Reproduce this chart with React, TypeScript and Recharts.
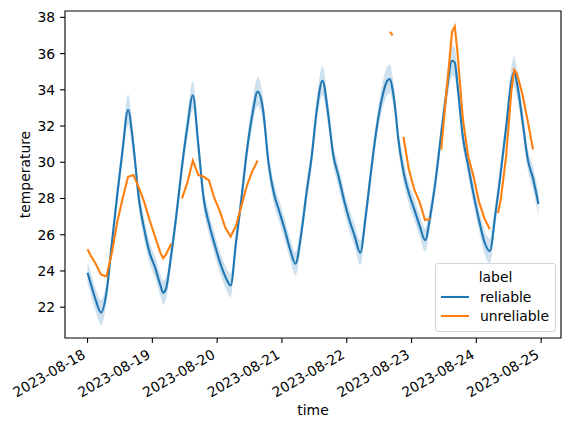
import { ComposedChart, Line, Area, XAxis, YAxis, Legend, ReferenceArea, Label } from 'recharts';

// hours since 2023-08-18 00:00
const hours = [
  0, 1, 3, 5, 7, 9, 11, 13, 15, 17, 19, 21, 23,
  25, 27, 28, 29, 31, 33, 35, 37, 39, 41, 43, 45, 47,
  49, 51, 53, 55, 57, 59, 61, 63, 65, 67, 69, 71,
  73, 75, 77, 79, 81, 83, 85, 87, 89, 91, 93, 95,
  97, 99, 101, 103, 105, 107, 109, 111, 112, 113, 114, 115,
  117, 119, 121, 123, 125, 127, 129, 131, 133, 135, 136, 137, 139, 141, 143,
  145, 147, 149, 151, 152, 153, 155, 157, 158, 159, 161, 163, 165, 167,
];

// mean of the reliable sensors
const reliable = [
  23.9, 23.4, 22.4, 21.7, 22.8, 25.5, 28.2, 30.7, 32.9, 30.9, 28.0, 26.3, 25.0,
  24.2, 23.2, 22.8, 23.0, 24.9, 27.2, 29.8, 32.0, 33.7, 31.0, 28.0, 26.6, 25.5,
  24.5, 23.7, 23.2, 25.6, 28.0, 30.6, 32.6, 33.9, 32.9, 30.0, 28.3, 27.3,
  26.3, 25.2, 24.4, 25.9, 28.2, 30.3, 33.0, 34.5, 32.8, 30.4, 29.2, 27.9,
  26.8, 25.9, 25.0, 27.0, 29.5, 31.8, 33.5, 34.5, 34.6, 34.0, 32.9, 31.4,
  29.5, 28.3, 27.4, 26.5, 25.7, 27.1, 29.1, 31.6, 33.9, 35.6, 35.5, 34.3, 31.4, 29.8, 28.2,
  26.8, 25.6, 25.1, 27.1, 28.2, 29.4, 31.9, 34.5, 35.0, 34.4, 32.4, 30.2, 29.1, 27.7,
];

// half width of the confidence band around the reliable mean
const reliableCi = [
  0.62, 0.62, 0.62, 0.68, 0.6, 0.6, 0.6, 0.62, 0.85, 0.65, 0.6, 0.6, 0.6,
  0.6, 0.62, 0.65, 0.62, 0.6, 0.6, 0.6, 0.65, 0.8, 0.65, 0.6, 0.6, 0.6,
  0.6, 0.6, 0.65, 0.6, 0.6, 0.6, 0.68, 0.8, 0.7, 0.6, 0.6, 0.6,
  0.6, 0.6, 0.65, 0.6, 0.6, 0.6, 0.68, 0.8, 0.7, 0.6, 0.6, 0.6,
  0.6, 0.62, 0.68, 0.6, 0.6, 0.62, 0.7, 0.8, 0.8, 0.72, 0.65, 0.6,
  0.6, 0.6, 0.6, 0.6, 0.65, 0.6, 0.6, 0.62, 0.7, 0.85, 0.85, 0.72, 0.6, 0.6, 0.6,
  0.6, 0.65, 0.68, 0.6, 0.6, 0.6, 0.62, 0.78, 0.85, 0.78, 0.62, 0.6, 0.65, 0.68,
];

// unreliable sensor, null where it dropped out
const unreliable = [
  25.2, 24.9, 24.4, 23.8, 23.7, 25.0, 26.7, 28.0, 29.2, 29.3, 28.6, 27.8, 26.8,
  25.9, 25.0, 24.7, 24.9, 25.5, null, 28.0, 28.9, 30.1, 29.3, 29.2, 29.0, 28.0,
  27.3, 26.4, 25.9, 26.5, 27.6, 28.7, 29.5, 30.1, null, null, null, null,
  null, null, null, null, null, null, null, null, null, null, null, null,
  null, null, null, null, null, null, null, null, 37.2, 37.0, null, null,
  31.4, 29.6, 28.5, 27.8, 26.8, 26.9, null, 30.7, 34.0, 37.2, 37.5, 36.1, 32.4, 30.3, 29.2,
  27.8, 26.9, 26.3, null, 27.2, 27.9, 30.3, 34.0, 35.1, 34.9, 33.8, 32.3, 30.7, null,
];

const dayTicks = [0, 24, 48, 72, 96, 120, 144, 168];
const dayLabels = ['2023-08-18', '2023-08-19', '2023-08-20', '2023-08-21', '2023-08-22', '2023-08-23', '2023-08-24', '2023-08-25'];
const tempTicks = [22, 24, 26, 28, 30, 32, 34, 36, 38];

const BLUE = '#1f77b4';
const ORANGE = '#ff7f0e';
const FONT = 13.9;
const X_DOMAIN = [-8.35, 175.35];
const Y_DOMAIN = [20.3, 38.35];

const rows = hours.map((hour, i) => ({
  hour,
  reliable: reliable[i],
  band: [reliable[i] - reliableCi[i], reliable[i] + reliableCi[i]],
  unreliable: unreliable[i],
}));

function DateTick({ x, y, payload }: any) {
  const label = dayLabels[dayTicks.indexOf(payload.value)];
  const ax = x - 1;
  const ay = y + 9.5;
  return (
    <text x={ax} y={ay} textAnchor="end" fontSize={FONT} fill="#000" transform={`rotate(-30 ${ax} ${ay})`}>
      {label}
    </text>
  );
}

function LegendBox() {
  const entries = [
    { name: 'reliable', color: BLUE },
    { name: 'unreliable', color: ORANGE },
  ];
  return (
    <div
      style={{
        position: 'relative',
        width: 121,
        height: 69,
        boxSizing: 'border-box',
        border: '1px solid #d5d5d5',
        borderRadius: 3,
        background: 'rgba(255,255,255,0.8)',
        fontSize: FONT,
        color: '#000',
      }}
    >
      <div style={{ position: 'absolute', left: 0, right: 0, top: 5, textAlign: 'center', lineHeight: '16px' }}>label</div>
      {entries.map((e, i) => (
        <div key={e.name} style={{ position: 'absolute', left: 5, top: 25 + i * 19, height: 16, display: 'flex', alignItems: 'center' }}>
          <svg width={28} height={16} style={{ display: 'block' }}>
            <line x1={0} y1={8} x2={28} y2={8} stroke={e.color} strokeWidth={2.1} />
          </svg>
          <span style={{ marginLeft: 11, lineHeight: '16px' }}>{e.name}</span>
        </div>
      ))}
    </div>
  );
}

export default function App() {
  return (
    <div style={{ position: 'absolute', left: 0, top: 0, width: 571, height: 429, background: '#fff', fontFamily: 'DejaVu Sans' }}>
      <ComposedChart width={571} height={429} data={rows} margin={{ top: 11, right: 10, left: 0, bottom: 0 }}>
        <XAxis
          dataKey="hour"
          type="number"
          domain={X_DOMAIN}
          allowDataOverflow
          ticks={dayTicks}
          interval={0}
          height={91}
          axisLine={false}
          tickSize={4.9}
          tickMargin={4.9}
          tickLine={{ stroke: '#000', strokeWidth: 1.1 }}
          tick={<DateTick />}
        >
          <Label
            content={() => (
              <text x={313} y={415} textAnchor="middle" fontSize={FONT} fill="#000">
                time
              </text>
            )}
          />
        </XAxis>
        <YAxis
          type="number"
          domain={Y_DOMAIN}
          allowDataOverflow
          ticks={tempTicks}
          interval={0}
          width={65}
          axisLine={false}
          tickSize={4.9}
          tickMargin={4.9}
          tickLine={{ stroke: '#000', strokeWidth: 1.1 }}
          tick={{ fontSize: FONT, fill: '#000' }}
        >
          <Label
            content={() => (
              <text x={25} y={174.5} textAnchor="middle" dominantBaseline="central" fontSize={FONT} fill="#000" transform="rotate(-90 25 174.5)">
                temperature
              </text>
            )}
          />
        </YAxis>
        <Area type="monotone" dataKey="band" stroke="none" fill={BLUE} fillOpacity={0.22} isAnimationActive={false} activeDot={false} legendType="none" />
        <Line type="monotone" dataKey="reliable" name="reliable" stroke={BLUE} strokeWidth={2.1} dot={false} activeDot={false} isAnimationActive={false} />
        <Line dataKey="unreliable" name="unreliable" stroke={ORANGE} strokeWidth={2.1} dot={false} activeDot={false} isAnimationActive={false} />
        <ReferenceArea x1={X_DOMAIN[0]} x2={X_DOMAIN[1]} y1={Y_DOMAIN[0]} y2={Y_DOMAIN[1]} fill="none" stroke="#000" strokeWidth={1.1} />
        <Legend
          layout="vertical"
          align="center"
          verticalAlign="middle"
          content={() => <LegendBox />}
          wrapperStyle={{ left: 435, top: 263, width: 121, height: 69 }}
        />
      </ComposedChart>
    </div>
  );
}
